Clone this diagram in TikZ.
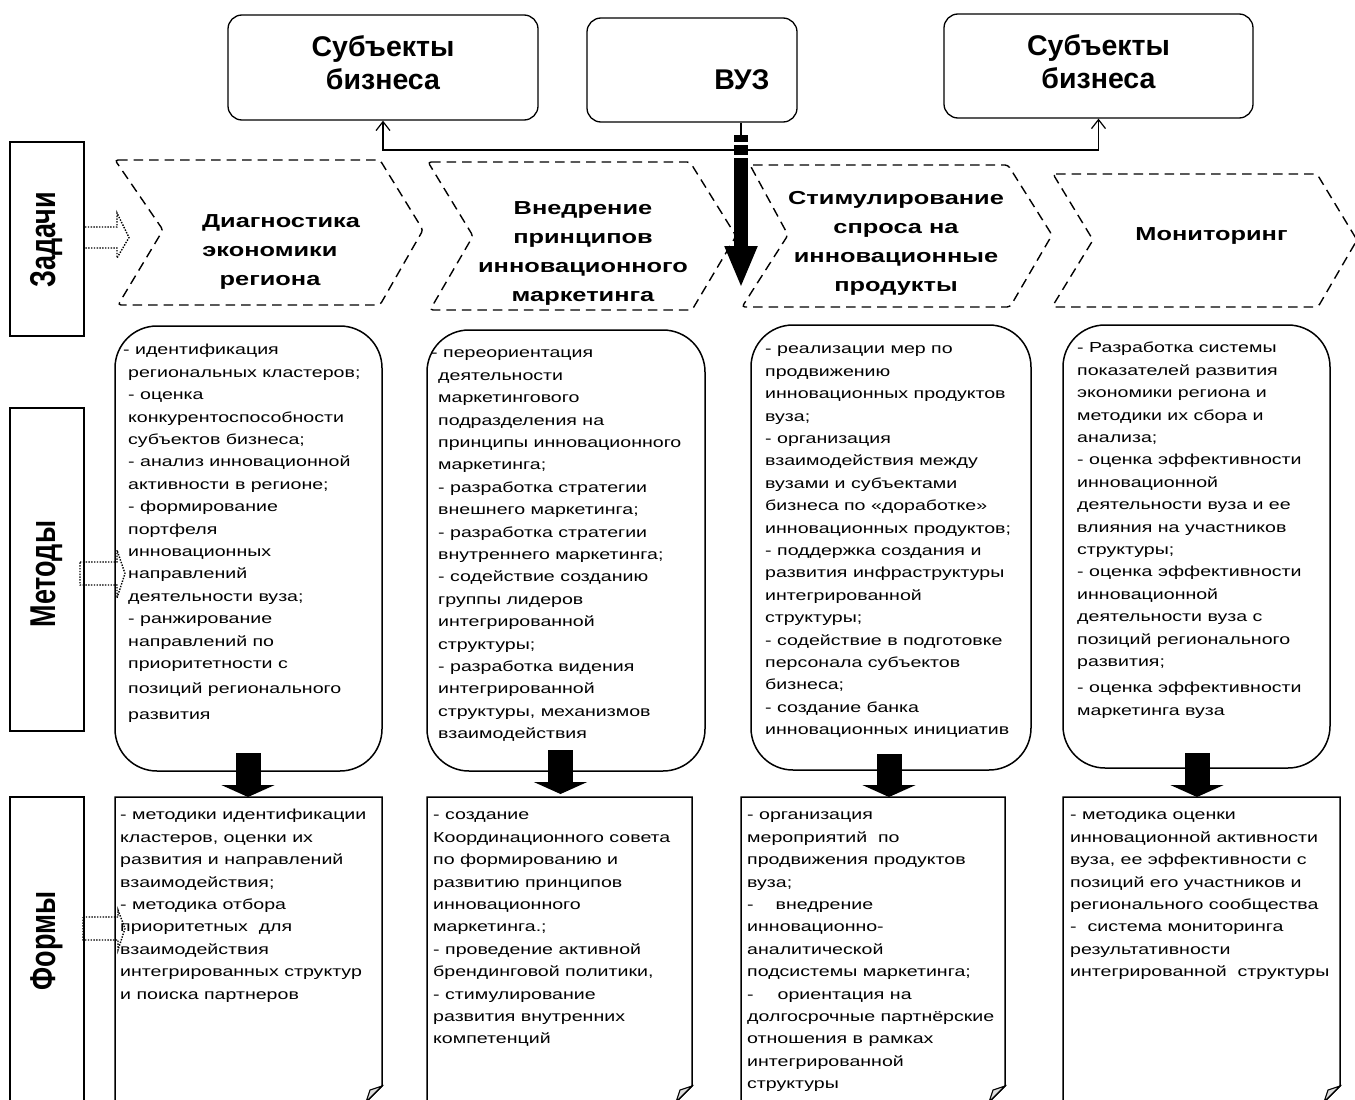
\documentclass[tikz,border=0pt]{standalone}
\usepackage{fontspec}
\setmainfont{Liberation Sans}
\newfontfamily\bodyfont{Liberation Sans}[FakeStretch=1.35]
\usetikzlibrary{arrows.meta,calc}
\newcommand{\bsz}{\fontsize{14.5}{22.4}\selectfont}
\begin{document}
\begin{tikzpicture}[x=1pt,y=-1pt,
  topbox/.style={draw, line width=1.3pt, rounded corners=14pt, inner sep=0pt},
  lbl/.style={draw, line width=1.5pt, inner sep=0pt, minimum width=74pt},
  lbltxt/.style={rotate=90, inner sep=0pt, font=\bfseries\fontsize{27}{30}\selectfont},
  methbox/.style={draw, line width=1.5pt, rounded corners=42pt, inner sep=0pt},
  formline/.style={line width=1.5pt},
  chev/.style={dash pattern=on 9.5pt off 6pt, line width=1.4pt, rounded corners=3pt},
  bodytxt/.style={anchor=north west, align=left, inner sep=0pt, font=\bodyfont\bsz},
  chevtxt/.style={align=center, inner sep=0pt, font=\bodyfont\bfseries\fontsize{18.8}{29}\selectfont},
  toptxt/.style={align=center, inner sep=0pt, font=\bfseries\fontsize{28.5}{33}\selectfont},
  bigarrow/.style={line width=25pt, -{Triangle[length=12pt,width=53pt]}},
  dotarr/.style={line width=1.4pt, dash pattern=on 1.4pt off 1.4pt},
  conn/.style={line width=1.2pt}]
\useasboundingbox (0,0) rectangle (1355,1100);

% ---------- top boxes ----------
\node[topbox, minimum width=310pt, minimum height=105pt] (b1) at (383,67.5) {};
\node[topbox, minimum width=210pt, minimum height=104pt] (vuz) at (692,70) {};
\node[topbox, minimum width=309pt, minimum height=104pt] (b3) at (1098.5,66) {};
\node[toptxt] (b1t) at (383,62.5) {Субъекты\\бизнеса};
\node[toptxt] (vuzt) at (742,80) {ВУЗ};
\node[toptxt] (b3t) at (1098.5,61.5) {Субъекты\\бизнеса};

% ---------- left labels ----------
\node[lbl, minimum height=194pt] (lz) at (47,239) {};
\node[lbl, minimum height=323pt] (lm) at (47,569.5) {};
\node[lbl, minimum height=313pt] (lf) at (47,953.5) {};
\node[lbltxt] (lzt) at (47,240) {\scalebox{1}[1.33]{Задачи}};
\node[lbltxt] (lmt) at (47,574) {\scalebox{1}[1.33]{Методы}};
\node[lbltxt] (lft) at (47,941) {\scalebox{1}[1.33]{Формы}};

% dotted hollow arrows
\draw[dotarr] (85,227) -- (117,227) -- (117,213) -- (129,237.5) -- (117,258) -- (117,248) -- (85,248);
\draw[dotarr] (80,562) -- (117,562) -- (117,550) -- (125,573.5) -- (117,598) -- (117,585) -- (80,585) -- cycle;
\draw[dotarr] (83,917) -- (118,917) -- (118,910) -- (125,928.5) -- (118,950) -- (118,940) -- (83,940) -- cycle;

% ---------- chevrons ----------
\draw[chev] (115,160) -- (380,160) -- (423,230) -- (380,305) -- (118,305) -- (163,230) -- cycle;
\draw[chev] (428,162) -- (690,162) -- (736,236) -- (692,310) -- (430,310) -- (473,236) -- cycle;
\draw[chev] (750,165) -- (1008,165) -- (1052,235) -- (1010,307) -- (742,307) -- (788,235) -- cycle;
\draw[chev] (1053,174) -- (1317,174) -- (1357,240) -- (1318,307) -- (1052,307) -- (1093,240) -- cycle;
\node[chevtxt] (c1) at (270,252) {\hspace*{22pt}Диагностика\\экономики\\региона};
\node[chevtxt] (c2) at (583,253.5) {Внедрение\\принципов\\инновационного\\маркетинга};
\node[chevtxt] (c3) at (896,243.5) {Стимулирование\\спроса на\\инновационные\\продукты};
\node[chevtxt] (c4) at (1211.5,236) {Мониторинг};

% ---------- connectors from VUZ ----------
\coordinate (j) at (741,150);
\draw[conn] (vuz.south -| j) -- (741,135);
\draw[conn, -{Straight Barb[length=9pt,width=14pt]}] (j) -| (b1.south);
\draw[conn, -{Straight Barb[length=9pt,width=14pt]}] (j) -| (b3.south);
\fill (734,135) rectangle (748,142);
\fill (734,145) rectangle (748,155);
\draw[line width=14pt, -{Triangle[length=42pt,width=30pt]}] (741,158) -- (741,288);

% ---------- method boxes ----------
\node[methbox, minimum width=267pt, minimum height=445pt] (m1) at (248.5,548.5) {};
\node[methbox, minimum width=278pt, minimum height=441pt] (m2) at (566,550.5) {};
\node[methbox, minimum width=280pt, minimum height=445pt] (m3) at (891,547.5) {};
\node[methbox, minimum width=267pt, minimum height=443pt] (m4) at (1196.5,546.5) {};

\node[bodytxt] (m1t) at (128,339) {\strut\hspace*{-5pt}- идентификация\\
региональных кластеров;\\
- оценка\\
конкурентоспособности\\
субъектов бизнеса;\\
- анализ инновационной\\
активности в регионе;\\
- формирование\\
портфеля\\
инновационных\\
направлений\\
деятельности  вуза;\\
- ранжирование\\
направлений по\\
приоритетности с\\[3pt]
позиций регионального\\[3pt]
развития};

\node[bodytxt] (m2t) at (438,342) {\strut\hspace*{-7pt}- переориентация\\
деятельности\\
маркетингового\\
подразделения на\\
принципы инновационного\\
маркетинга;\\
- разработка стратегии\\
внешнего маркетинга;\\
- разработка стратегии\\
внутреннего маркетинга;\\
- содействие созданию\\
группы лидеров\\
интегрированной\\
структуры;\\
- разработка видения\\
интегрированной\\
структуры, механизмов\\
взаимодействия};

\node[bodytxt] (m3t) at (765,338) {\strut - реализации мер по\\
продвижению\\
инновационных продуктов\\
вуза;\\
- организация\\
взаимодействия между\\
вузами и субъектами\\
бизнеса по «доработке»\\
инновационных продуктов;\\
- поддержка создания и\\
развития инфраструктуры\\
интегрированной\\
структуры;\\
- содействие в подготовке\\
персонала субъектов\\
бизнеса;\\
- создание банка\\
инновационных  инициатив};

\node[bodytxt] (m4t) at (1077,337) {\strut - Разработка системы\\
показателей развития\\
экономики региона и\\
методики их сбора и\\
анализа;\\
- оценка эффективности\\
инновационной\\
деятельности вуза и ее\\
влияния на участников\\
структуры;\\
- оценка эффективности\\
инновационной\\
деятельности вуза с\\
позиций регионального\\
развития;\\[4pt]
- оценка  эффективности\\
маркетинга вуза};

% ---------- form boxes ----------
\coordinate (f1) at (248.5,797);
\coordinate (f2) at (559.5,794);
\coordinate (f3) at (872.5,797);
\coordinate (f4) at (1201.5,797);
\foreach \xa/\xb in {115/382, 427/692, 741/1005, 1063/1340}{
  \draw[formline] (\xa,1110) -- (\xa,797) -- (\xb,797) -- (\xb,1086) -- (\xb-16,1102);
  \filldraw[line width=1.1pt, fill=gray!25] (\xb,1086) -- (\xb-12,1090) -- (\xb-16,1102) -- cycle;
}

\node[bodytxt] (f1t) at (120,804) {\strut - методики идентификации\\
кластеров, оценки их\\
развития и направлений\\
взаимодействия;\\
- методика отбора\\
приоритетных \ для\\
взаимодействия\\
интегрированных структур\\
и поиска партнеров};

\node[bodytxt] (f2t) at (433,804) {\strut - создание\\
Координационного совета\\
по формированию и\\
развитию принципов\\
инновационного\\
маркетинга.;\\
- проведение активной\\
брендинговой политики,\\
- стимулирование\\
развития внутренних\\
компетенций};

\node[bodytxt] (f3t) at (747,804) {\strut - организация\\
мероприятий \ по\\
продвижения продуктов\\
вуза;\\
-\hspace{22pt}внедрение\\
инновационно-\\
аналитической\\
подсистемы маркетинга;\\
-\hspace{24pt}ориентация на\\
долгосрочные партнёрские\\
отношения в рамках\\
интегрированной\\
структуры};

\node[bodytxt] (f4t) at (1070,804) {\strut - методика оценки\\
инновационной активности\\
вуза, ее эффективности с\\
позиций его участников и\\
регионального сообщества\\
- \ система мониторинга\\
результативности\\
интегрированной \ структуры};

% ---------- black arrows methods -> forms ----------
\coordinate (a1) at (248,753);
\coordinate (a2) at (560.5,750);
\coordinate (a3) at (889,754);
\coordinate (a4) at (1197,753);
\draw[bigarrow] (a1) -- (a1 |- f1);
\draw[bigarrow] (a2) -- (a2 |- f2);
\draw[bigarrow] (a3) -- (a3 |- f3);
\draw[bigarrow] (a4) -- (a4 |- f4);
\end{tikzpicture}
\end{document}
